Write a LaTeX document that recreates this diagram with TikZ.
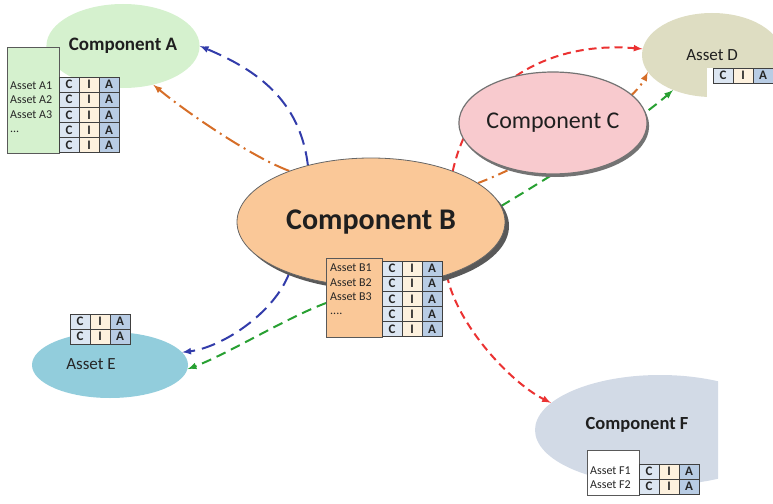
\documentclass[tikz,border=0pt]{standalone}
\usepackage{fontspec}
\setmainfont{Carlito}
\usepackage{tikz}
\usetikzlibrary{shapes.geometric,positioning,arrows,shadows,backgrounds}
\definecolor{compAfill}{RGB}{213,241,206}
\definecolor{compBfill}{RGB}{250,200,152}
\definecolor{compCfill}{RGB}{248,202,206}
\definecolor{assetDfill}{RGB}{222,221,194}
\definecolor{assetEfill}{RGB}{146,205,220}
\definecolor{compFfill}{RGB}{210,218,230}
\definecolor{cellC}{RGB}{220,230,242}
\definecolor{cellI}{RGB}{253,241,222}
\definecolor{cellA}{RGB}{184,204,228}
\definecolor{cellline}{RGB}{64,64,64}
\definecolor{flowblue}{RGB}{50,60,170}
\definecolor{floworange}{RGB}{214,110,40}
\definecolor{flowred}{RGB}{235,50,50}
\definecolor{flowgreen}{RGB}{40,160,50}
\tikzset{
  cell/.style={draw=cellline, line width=0.8pt, minimum width=20pt, minimum height=15pt,
    inner sep=0pt, outer sep=0pt, font=\fontsize{13}{13}\selectfont\bfseries, text=black!85},
  ciaC/.style={cell, fill=cellC},
  ciaI/.style={cell, fill=cellI},
  ciaA/.style={cell, fill=cellA},
  blob/.style={ellipse, inner sep=0pt, text=black!88},
  listbox/.style={draw=black!65, line width=1pt, anchor=north west, inner sep=0pt},
  assettext/.style={anchor=west, inner sep=0pt, font=\fontsize{12}{12}\selectfont, text=black!85},
  flow/.style={line width=2pt, -latex},
}
% one C | I | A row, top left corner at (#2,#3)
\newcommand{\ciarow}[3]{%
  \node[ciaC, anchor=north west] (#1c) at (#2,#3) {C};
  \node[ciaI, right=0pt of #1c] (#1i) {I};
  \node[ciaA, right=0pt of #1i] (#1a) {A};
}

\begin{document}
\begin{tikzpicture}[x=1pt,y=-1pt]
  \useasboundingbox (0,0) rectangle (773,503);

  % components and assets
  \node[blob, fill=compAfill, minimum width=140pt, minimum height=84pt,
    font=\fontsize{19}{19}\selectfont\bfseries] (compA) at (123,46) {Component A};
  \node[blob, fill=compBfill, draw=black!60, line width=0.8pt,
    drop shadow={shadow xshift=4pt, shadow yshift=-4pt, fill=black!65, opacity=1},
    minimum width=268pt, minimum height=128pt,
    font=\fontsize{30}{30}\selectfont\bfseries] (compB) at (371,222) {Component B};
  \node[blob, fill=compCfill, draw=black!55, line width=1.2pt,
    drop shadow={shadow xshift=2pt, shadow yshift=-3pt, fill=black!55, opacity=1},
    minimum width=180pt, minimum height=102pt,
    font=\fontsize{24}{24}\selectfont] (compC) at (553,123) {Component C};
  \begin{scope}
    \clip (600,0) rectangle (773,120);
    \node[blob, fill=assetDfill, minimum width=140pt, minimum height=84pt,
      font=\fontsize{17}{17}\selectfont] (assetD) at (712,55) {Asset D};
  \end{scope}
  \fill[white] (707,68) rectangle (773,100);
  \node[blob, fill=assetEfill, minimum width=156pt, minimum height=66pt] (assetE) at (110,365) {};
  \node[font=\fontsize{17}{17}\selectfont, text=black!85] (labE) at (91,364) {Asset E};
  \begin{scope}
    \clip (500,360) rectangle (718,503);
    \node[blob, fill=compFfill, minimum width=250pt, minimum height=110pt] (compF) at (660,430) {};
  \end{scope}
  \node[font=\fontsize{18.5}{18.5}\selectfont\bfseries, text=black!88] (labF) at (637,425) {Component F};

  % asset lists
  \node[listbox, fill=compAfill, minimum width=52pt, minimum height=106pt] (listA) at (7,47) {};
  \node[assettext] (a1) at (10,86) {Asset A1};
  \node[assettext] (a2) at (10,100) {Asset A2};
  \node[assettext] (a3) at (10,115) {Asset A3};
  \node[assettext] (a4) at (10,132) {...};
  \foreach \r in {0,...,4} {\ciarow{tA\r}{59}{77+15.2*\r}}

  \node[listbox, fill=compBfill, minimum width=56pt, minimum height=79pt] (listB) at (326,258) {};
  \node[assettext] (b1) at (330,268) {Asset B1};
  \node[assettext] (b2) at (330,283) {Asset B2};
  \node[assettext] (b3) at (330,297) {Asset B3};
  \node[assettext] (b4) at (330,314) {....};
  \foreach \r in {0,...,4} {\ciarow{tB\r}{382}{261+15.2*\r}}

  \ciarow{tD}{713}{68}
  \foreach \r in {0,1} {\ciarow{tE\r}{70}{314+15*\r}}

  \node[listbox, fill=white, minimum width=52pt, minimum height=45pt] (listF) at (587,450) {};
  \node[assettext] (f1) at (590,471) {Asset F1};
  \node[assettext] (f2) at (590,485) {Asset F2};
  \foreach \r in {0,1} {\ciarow{tF\r}{639}{464+15*\r}}

  % flows
  \begin{scope}[on background layer]
    \draw[flow, flowblue, dash pattern=on 14pt off 7pt]
      (compB.138) .. controls +(-8,-65) and +(57,24) .. (compA.east);
    \draw[flow, floworange, dash pattern=on 16pt off 5pt on 2pt off 5pt]
      (compB.148) .. controls +(-40,-15) and +(30,25) .. (compA.-52);
    \draw[flow, flowred, dash pattern=on 8pt off 5pt]
      (compB.32) .. controls +(20,-90) and +(-90,-8) .. (assetD.175);
    \draw[flow, floworange, dash pattern=on 10pt off 5pt on 2pt off 5pt]
      (compB.20) .. controls +(40,-15) and +(-20,40) .. (assetD.195);
    \draw[flow, flowgreen, dash pattern=on 10pt off 6pt]
      (compB.7) .. controls +(50,-30) and +(-40,35) .. (assetD.222);
    \draw[flow, flowblue, dash pattern=on 14pt off 7pt]
      (compB.212) .. controls +(-15,40) and +(40,-5) .. (assetE.10);
    \draw[flow, flowgreen, dash pattern=on 10pt off 6pt]
      (listB.190) .. controls +(-40,15) and +(40,-15) .. (assetE.-3);
    \draw[flow, flowred, dash pattern=on 8pt off 5pt]
      (compB.-35) .. controls +(10,50) and +(-40,-20) .. (compF.166);
  \end{scope}
\end{tikzpicture}
\end{document}
